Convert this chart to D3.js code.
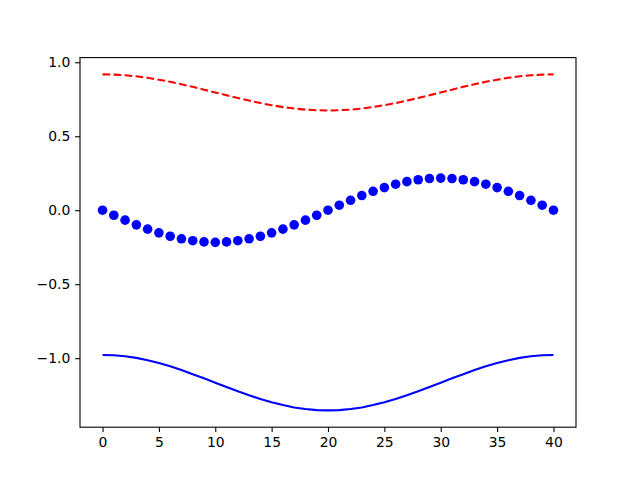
<!DOCTYPE html>
<html>
<head>
<meta charset="UTF-8">
<script src="https://cdn.jsdelivr.net/npm/d3@7"></script>
<style>
    body { margin: 0; background: white; }
    text { font-family: 'DejaVu Sans', sans-serif; }
</style>
</head>
<body>
<div id="chart"></div>
<script>
    // x positions 0..40
    const xs = d3.range(0, 41);

    // blue dots
    const dots = [0, -0.034, -0.067, -0.099, -0.128, -0.153, -0.176, -0.193, -0.206, -0.214, -0.217,
        -0.214, -0.206, -0.193, -0.176, -0.153, -0.128, -0.099, -0.067, -0.034, 0,
        0.034, 0.067, 0.099, 0.128, 0.153, 0.176, 0.193, 0.206, 0.214, 0.217,
        0.214, 0.206, 0.193, 0.176, 0.153, 0.128, 0.099, 0.067, 0.034, 0];

    // red dashed line
    const redLine = [0.918, 0.9165, 0.912, 0.905, 0.895, 0.882, 0.868, 0.851, 0.834, 0.815, 0.796,
        0.777, 0.758, 0.741, 0.724, 0.710, 0.697, 0.687, 0.680, 0.676, 0.674,
        0.676, 0.680, 0.687, 0.697, 0.710, 0.724, 0.741, 0.758, 0.777, 0.796,
        0.815, 0.834, 0.851, 0.868, 0.882, 0.895, 0.905, 0.912, 0.9165, 0.918];

    // blue solid line
    const blueLine = [-0.978, -0.980, -0.987, -0.998, -1.014, -1.033, -1.055, -1.080, -1.108, -1.136, -1.166,
        -1.195, -1.223, -1.251, -1.276, -1.298, -1.317, -1.333, -1.344, -1.351, -1.353,
        -1.351, -1.344, -1.333, -1.317, -1.298, -1.276, -1.251, -1.223, -1.195, -1.166,
        -1.136, -1.108, -1.080, -1.055, -1.033, -1.014, -0.998, -0.987, -0.980, -0.978];

    const xTicks = [0, 5, 10, 15, 20, 25, 30, 35, 40];
    const yTicks = [-1.0, -0.5, 0.0, 0.5, 1.0];

    const width = 640, height = 480;
    const plotLeft = 80, plotRight = 576, plotTop = 57.6, plotBottom = 427.2;

    const svg = d3.select("#chart").append("svg")
        .attr("width", width)
        .attr("height", height);

    const xExt = d3.extent(xs);
    const xPad = (xExt[1] - xExt[0]) * 0.05;
    const x = d3.scaleLinear().domain([xExt[0] - xPad, xExt[1] + xPad]).range([plotLeft, plotRight]);

    const allY = dots.concat(redLine, blueLine);
    const yExt = d3.extent(allY);
    const yPad = (yExt[1] - yExt[0]) * 0.05;
    const y = d3.scaleLinear().domain([yExt[0] - yPad, yExt[1] + yPad]).range([plotBottom, plotTop]);

    const line = d3.line()
        .x((d, i) => x(xs[i]))
        .y(d => y(d));

    svg.append("path")
        .datum(redLine)
        .attr("fill", "none")
        .attr("stroke", "red")
        .attr("stroke-width", 2.08)
        .attr("stroke-dasharray", "7.7,3.33")
        .attr("d", line);

    svg.append("path")
        .datum(blueLine)
        .attr("fill", "none")
        .attr("stroke", "blue")
        .attr("stroke-width", 2.08)
        .attr("d", line);

    svg.selectAll("circle")
        .data(dots)
        .enter()
        .append("circle")
        .attr("cx", (d, i) => x(xs[i]))
        .attr("cy", d => y(d))
        .attr("r", 4.8)
        .attr("fill", "blue");

    const fmt = d => (d < 0 ? "\u2212" : "") + Math.abs(d).toFixed(1);

    const xAxis = svg.append("g")
        .attr("transform", `translate(0,${plotBottom})`)
        .call(d3.axisBottom(x).tickValues(xTicks).tickSize(4.86).tickPadding(4.86).tickSizeOuter(0));

    const yAxis = svg.append("g")
        .attr("transform", `translate(${plotLeft},0)`)
        .call(d3.axisLeft(y).tickValues(yTicks).tickFormat(fmt).tickSize(4.86).tickPadding(4.86).tickSizeOuter(0));

    [xAxis, yAxis].forEach(g => {
        g.select(".domain").remove();
        g.selectAll(".tick line").attr("stroke", "black").attr("stroke-width", 1.1);
        g.selectAll(".tick text").attr("fill", "black").style("font-size", "13.9px");
    });

    svg.append("rect")
        .attr("x", plotLeft)
        .attr("y", plotTop)
        .attr("width", plotRight - plotLeft)
        .attr("height", plotBottom - plotTop)
        .attr("fill", "none")
        .attr("stroke", "black")
        .attr("stroke-width", 1.1);
</script>
</body>
</html>
